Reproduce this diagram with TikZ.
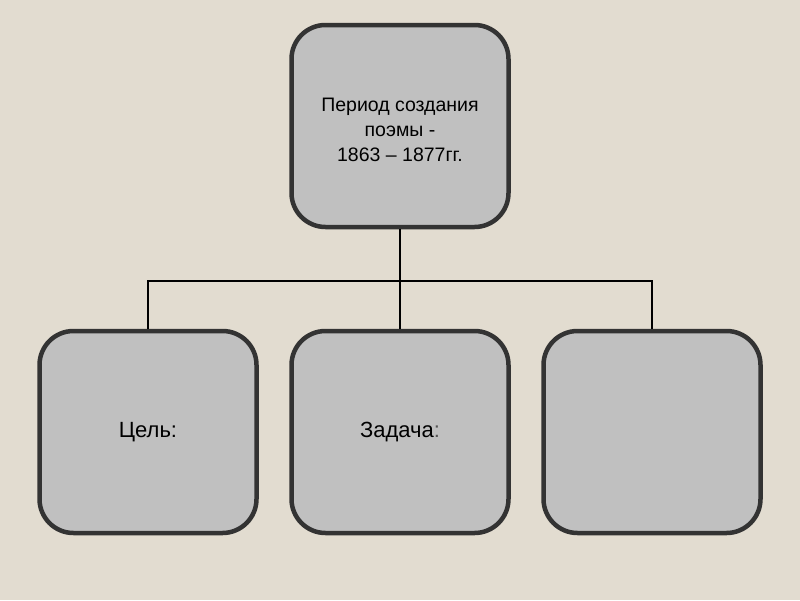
\documentclass[tikz,border=0pt]{standalone}
\usepackage{fontspec}
\setmainfont{Liberation Sans}
\definecolor{bg}{RGB}{226,220,208}
\definecolor{boxfill}{RGB}{192,192,192}
\definecolor{boxline}{RGB}{51,51,51}
\definecolor{colon}{RGB}{85,85,85}
\begin{document}
\begin{tikzpicture}[x=1pt,y=-1pt,
  cardbox/.style={draw=boxline, fill=boxfill, line width=4.5pt, rounded corners=34pt,
    minimum width=217pt, minimum height=202pt, inner sep=0pt, align=center, text=black},
  conn/.style={draw=black, line width=2pt}]
\fill[bg] (0,0) rectangle (800,600);
\useasboundingbox (0,0) rectangle (800,600);
\node[cardbox, font=\fontsize{19.5}{25}\selectfont] (top) at (400,126)
  {\raisebox{-11pt}[0pt][0pt]{\begin{tabular}{@{}c@{}}Период создания\\поэмы -\\1863 – 1877гг.\end{tabular}}};
\node[cardbox, font=\fontsize{22}{26}\selectfont] (c1) at (148,432) {Цель:};
\node[cardbox, font=\fontsize{22}{26}\selectfont] (c2) at (400,432) {Задача\textcolor{colon}{:}};
\node[cardbox] (c3) at (652,432) {};
\coordinate (j) at (400,281);
\draw[conn] (top.south) -- (j);
\draw[conn] (c1.north) |- (j) -| (c3.north);
\draw[conn] (j) -- (c2.north);
\end{tikzpicture}
\end{document}
